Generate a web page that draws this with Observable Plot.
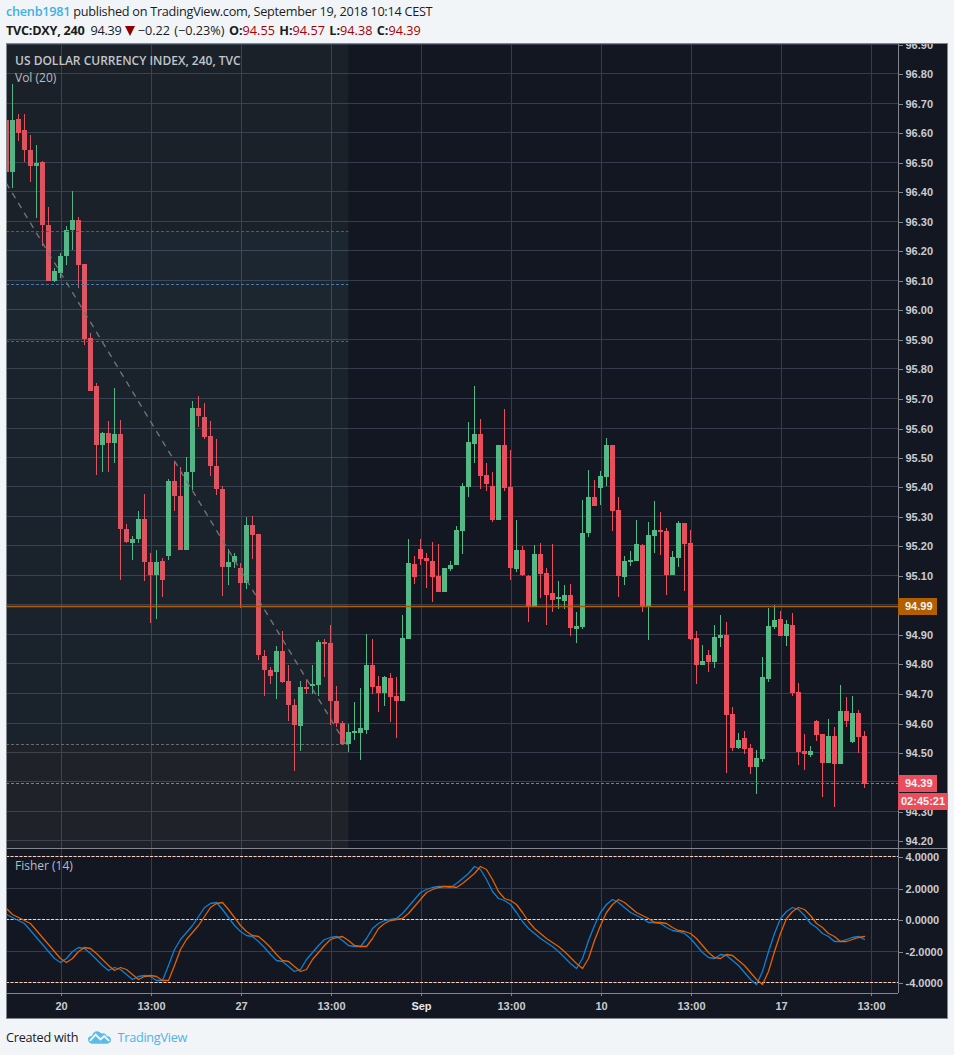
<!DOCTYPE html>
<html><head><meta charset="utf-8">
<script src="https://cdn.jsdelivr.net/npm/d3@7"></script>
<script src="https://cdn.jsdelivr.net/npm/@observablehq/plot@0.6"></script>
<style>
html,body{margin:0;padding:0;background:#f1f5f8;width:954px;height:1055px;overflow:hidden;font-family:"Open Sans",sans-serif;color:#1c1c1c}
.abs{position:absolute;white-space:nowrap}
svg{display:block}
.pane{position:absolute;left:6px;overflow:hidden}
.tag{position:absolute;left:898px;color:#f4f4f4;font:700 11px "Liberation Sans",Arial,sans-serif;text-align:left;padding-left:7px;box-sizing:border-box}
.leg{font-size:12px;color:#b9bdc2}
.hd{font-size:12.7px;letter-spacing:-0.27px;line-height:20px}
.ohlc{letter-spacing:0;word-spacing:1px}
</style></head><body>
<div class="abs hd" style="left:6px;top:1px"><span style="color:#3fb0e6;font-weight:600">chenb1981</span> published on TradingView.com, September 19, 2018 10:14 CEST</div>
<div class="abs hd" style="left:6px;top:20px"><b style="font-weight:700">TVC:DXY, 240</b>&nbsp; 94.39 <svg width="10" height="10" viewBox="0 0 10 10" style="display:inline-block;vertical-align:-1px"><path d="M0 0H10L5 10Z" fill="#8f0000"/></svg> <span class="ohlc">−0.22 (−0.23%) <b>O:</b><span style="color:#a80000">94.55</span> <b>H:</b><span style="color:#a80000">94.57</span> <b>L:</b><span style="color:#a80000">94.38</span> <b>C:</b><span style="color:#a80000">94.39</span></span></div>
<div id="price" class="pane" style="top:44px"></div>
<div id="fisher" class="pane" style="top:848px"></div>
<div id="tags"></div>
<div class="abs" style="left:6px;top:43px;width:942px;height:976px;box-sizing:border-box;border:1px solid #82868c;pointer-events:none"></div>
<div class="abs leg" style="left:15px;top:52px;font-weight:600;color:#c2c5c9">US DOLLAR CURRENCY INDEX, 240, TVC</div>
<div class="abs leg" style="left:15px;top:69px">Vol (20)</div>
<div class="abs leg" style="left:15px;top:857px">Fisher (14)</div>
<div class="abs hd" style="left:6px;top:1027px">Created with</div>
<svg class="abs" style="left:87px;top:1028px" width="25" height="16" viewBox="0 0 26 16"><path d="M1 11.5C1 9 3 8 5 8C6 5 8 3 10.500 3C12.500 3 14 4 15 5.500C17 4.500 20 5.500 20.500 8C23 8 25 9.500 25 12C25 14.500 23 16 21 16H5C3 16 1 14 1 11.500Z" fill="#5bbce8"/><path d="M3 13L9 6.500L14 11.500L18 8L23 13" fill="none" stroke="#f1f5f8" stroke-width="2"/></svg>
<div class="abs hd" style="left:117.500px;top:1027px;color:#4fb3e8">TradingView</div>
<script>
const openPrice=[96.644,96.466,96.647,96.607,96.542,96.486,96.499,96.288,96.098,96.123,96.181,96.268,96.305,96.153,95.902,95.742,95.540,95.581,95.546,95.579,95.257,95.207,95.221,95.291,95.145,95.099,95.149,95.163,95.420,95.369,95.184,95.448,95.667,95.637,95.572,95.470,95.393,95.126,95.143,95.125,95.072,95.271,95.240,94.827,94.779,94.770,94.843,94.742,94.660,94.587,94.721,94.725,94.726,94.874,94.871,94.674,94.598,94.528,94.566,94.566,94.576,94.796,94.725,94.701,94.752,94.691,94.674,94.884,95.138,95.189,95.159,95.149,95.098,95.043,95.121,95.135,95.250,95.399,95.545,95.579,95.440,95.403,95.288,95.542,95.399,95.121,95.186,95.098,94.996,95.172,95.108,95.040,95.020,95.013,95.033,94.918,94.925,95.243,95.366,95.396,95.433,95.542,95.321,95.094,95.145,95.149,95.203,94.996,95.233,95.254,95.250,95.101,95.159,95.277,95.210,94.888,94.796,94.830,94.806,94.888,94.898,94.630,94.515,94.549,94.515,94.450,94.477,94.749,94.925,94.952,94.894,94.932,94.705,94.505,94.491,94.606,94.562,94.464,94.555,94.460,94.640,94.535,94.633,94.555];
const closePrice=[96.466,96.644,96.598,96.540,96.486,96.495,96.286,96.098,96.132,96.183,96.271,96.302,96.150,95.901,95.725,95.540,95.581,95.546,95.579,95.255,95.211,95.223,95.291,95.143,95.099,95.145,95.082,95.420,95.367,95.184,95.450,95.667,95.638,95.567,95.468,95.390,95.126,95.145,95.166,95.072,95.271,95.234,94.828,94.777,94.756,94.843,94.736,94.658,94.590,94.721,94.715,94.732,94.874,94.867,94.672,94.597,94.526,94.569,94.569,94.582,94.796,94.721,94.701,94.755,94.688,94.674,94.888,95.142,95.094,95.155,95.149,95.094,95.043,95.125,95.135,95.254,95.403,95.552,95.579,95.437,95.410,95.288,95.542,95.396,95.125,95.186,95.101,94.996,95.172,95.105,95.033,95.016,95.027,95.033,94.921,94.928,95.243,95.366,95.335,95.437,95.542,95.318,95.098,95.149,95.152,95.206,94.996,95.237,95.254,95.247,95.101,95.162,95.277,95.206,94.884,94.796,94.810,94.806,94.891,94.898,94.627,94.515,94.542,94.511,94.450,94.481,94.755,94.928,94.949,94.894,94.935,94.701,94.501,94.494,94.505,94.559,94.464,94.555,94.460,94.640,94.606,94.633,94.552,94.393];
const highPrice=[96.644,96.766,96.663,96.663,96.593,96.556,96.503,96.346,96.141,96.192,96.283,96.403,96.312,96.153,95.922,95.751,95.585,95.622,95.734,95.625,95.273,95.233,95.317,95.376,95.176,95.186,95.159,95.425,95.488,95.466,95.501,95.691,95.708,95.684,95.623,95.561,95.403,95.189,95.176,95.142,95.298,95.301,95.240,94.847,94.789,94.860,94.911,94.794,94.678,94.742,94.745,94.796,94.881,94.884,94.932,94.725,94.606,94.596,94.671,94.717,94.901,94.884,94.759,94.759,94.769,94.755,94.966,95.223,95.166,95.223,95.176,95.213,95.206,95.125,95.149,95.267,95.413,95.620,95.739,95.630,95.481,95.450,95.542,95.664,95.525,95.288,95.199,95.101,95.203,95.210,95.125,95.206,95.081,95.067,95.071,94.976,95.355,95.457,95.423,95.454,95.566,95.542,95.366,95.166,95.182,95.288,95.206,95.281,95.352,95.315,95.260,95.182,95.284,95.277,95.254,94.911,94.864,94.847,94.932,94.966,94.942,94.654,94.566,94.572,94.528,94.508,94.823,94.989,94.999,94.979,94.949,94.972,94.735,94.562,94.522,94.610,94.562,94.613,94.586,94.728,94.688,94.691,94.643,94.572];
const lowPrice=[96.466,96.411,96.571,96.499,96.432,96.310,96.215,96.096,96.093,96.106,96.150,96.200,96.072,95.878,95.725,95.440,95.448,95.448,95.479,95.082,95.207,95.150,95.207,95.079,94.936,94.950,95.024,95.150,95.316,95.184,95.184,95.387,95.603,95.560,95.434,95.370,95.028,95.065,95.125,94.987,95.051,95.153,94.811,94.689,94.729,94.679,94.733,94.604,94.434,94.502,94.697,94.697,94.689,94.753,94.590,94.584,94.526,94.501,94.542,94.472,94.562,94.695,94.637,94.657,94.603,94.549,94.674,94.884,95.071,95.135,95.057,95.010,95.043,95.043,95.115,95.135,95.172,95.366,95.481,95.393,95.386,95.281,95.288,95.386,95.084,95.111,95.098,94.942,94.996,95.023,94.932,94.976,94.986,94.986,94.894,94.871,94.918,95.230,95.335,95.338,95.403,95.250,95.027,95.067,95.132,95.149,94.976,94.881,95.176,95.167,95.033,95.101,95.128,95.047,94.881,94.732,94.796,94.772,94.786,94.857,94.430,94.505,94.511,94.494,94.427,94.359,94.467,94.738,94.918,94.894,94.860,94.691,94.457,94.440,94.484,94.538,94.349,94.464,94.315,94.460,94.586,94.532,94.498,94.379];
const fisherLine=[0.34,0.11,-0.04,-0.25,-0.68,-1.15,-1.59,-2.06,-2.48,-2.72,-2.48,-2.02,-1.78,-1.87,-2.19,-2.55,-2.91,-3.23,-3.06,-3.16,-3.50,-3.78,-3.63,-3.57,-3.65,-3.86,-3.86,-2.91,-1.91,-1.27,-0.83,-0.36,0.19,0.74,1.02,1.08,0.64,0.13,-0.36,-0.79,-1.00,-1.10,-1.38,-1.78,-2.21,-2.59,-2.68,-2.97,-3.31,-3.18,-2.51,-2.08,-1.66,-1.27,-1.13,-1.10,-1.36,-1.63,-1.70,-1.70,-1.23,-0.57,-0.25,-0.08,0,0.04,0.38,0.85,1.27,1.70,1.91,2.04,2.08,2.08,2.06,2.29,2.59,2.93,3.35,3.18,2.51,1.76,1.34,1.23,0.93,0.45,-0.11,-0.57,-0.91,-1.19,-1.46,-1.70,-2.02,-2.40,-2.78,-3.12,-2.48,-1.32,-0.36,0.42,0.96,1.27,1.08,0.76,0.47,0.25,0.06,-0.17,-0.17,-0.25,-0.51,-0.70,-0.74,-0.89,-1.23,-1.66,-2.08,-2.42,-2.48,-2.23,-2.31,-2.59,-2.93,-3.35,-3.78,-4.14,-3.33,-2.06,-0.89,0.06,0.51,0.76,0.64,0.25,-0.23,-0.53,-0.89,-1.08,-1.38,-1.38,-1.30,-1.17,-1.10,-1.27];
const triggerLine=[0.70,0.34,0.11,-0.04,-0.25,-0.68,-1.15,-1.59,-2.06,-2.48,-2.72,-2.48,-2.02,-1.78,-1.87,-2.19,-2.55,-2.91,-3.23,-3.06,-3.16,-3.50,-3.78,-3.63,-3.57,-3.65,-3.86,-3.86,-2.91,-1.91,-1.27,-0.83,-0.36,0.19,0.74,1.02,1.08,0.64,0.13,-0.36,-0.79,-1.00,-1.10,-1.38,-1.78,-2.21,-2.59,-2.68,-2.97,-3.31,-3.18,-2.51,-2.08,-1.66,-1.27,-1.13,-1.10,-1.36,-1.63,-1.70,-1.70,-1.23,-0.57,-0.25,-0.08,0,0.04,0.38,0.85,1.27,1.70,1.91,2.04,2.08,2.08,2.06,2.29,2.59,2.93,3.35,3.18,2.51,1.76,1.34,1.23,0.93,0.45,-0.11,-0.57,-0.91,-1.19,-1.46,-1.70,-2.02,-2.40,-2.78,-3.12,-2.48,-1.32,-0.36,0.42,0.96,1.27,1.08,0.76,0.47,0.25,0.06,-0.17,-0.17,-0.25,-0.51,-0.70,-0.74,-0.89,-1.23,-1.66,-2.08,-2.42,-2.48,-2.23,-2.31,-2.59,-2.93,-3.35,-3.78,-4.14,-3.33,-2.06,-0.89,0.06,0.51,0.76,0.64,0.25,-0.23,-0.53,-0.89,-1.08,-1.38,-1.38,-1.30,-1.17,-1.10];

const timeTicks=[9.167,24.167,39.167,54.167,69.167,84.167,99.167,114.167,129.167,144.167];
const timeLabels=["20","13:00","27","13:00","Sep","13:00","10","13:00","17","13:00"];
const priceTicks=[96.9,96.8,96.7,96.6,96.5,96.4,96.3,96.2,96.1,96.0,95.9,95.8,95.7,95.6,95.5,95.4,95.3,95.2,95.1,95.0,94.9,94.8,94.7,94.6,94.5,94.4,94.3,94.2];
const fisherTicks=[4,2,0,-2,-4];
const fisherLevels=[4,0,-4];
const fibLevels=[96.266,96.086,95.893,94.527];
const fibColors=["#2b6a86","#4a76b0","#2a7a62","#6a6a6a"];
const fibBands=[[96.9,96.266,"#597b68"],[96.266,96.086,"#63adae"],[96.086,95.893,"#63ad9a"],[95.893,94.527,"#598f7c"],[94.527,94.17,"#8b855e"]];
const fibEndBar=57.05;
const trendBars=[0,56.5];
const trendPrices=[96.43,94.53];
const supportPrice=94.995, lastPrice=94.395;

const GREEN="#53b987",RED="#eb4d5c",GRID="#363c4e",AXIS="#82868c",TEXT="#c9ccd1";
const bars=openPrice.map((o,i)=>({i,o,h:highPrice[i],l:lowPrice[i],c:closePrice[i],col:closePrice[i]>=o?GREEN:RED}));
const xDomain=[0,892/6];
const font={fontFamily:'"Liberation Sans",Arial,sans-serif',fontSize:"11px",fontWeight:700,background:"#131722",overflow:"hidden"};
const thin=d=>Math.abs(d.o-d.c)<0.004?0.002:0;

const pricePlot=Plot.plot({
  width:942,height:804,marginLeft:0,marginRight:50,marginTop:0,marginBottom:0,
  style:font,
  x:{domain:xDomain,axis:null},
  y:{domain:[94.3-37/295,94.3+767/295],round:true,axis:null},
  marks:[
    Plot.gridY(priceTicks,{stroke:GRID,strokeOpacity:1}),
    Plot.gridX(timeTicks,{stroke:GRID,strokeOpacity:1}),
    Plot.ruleX(bars,{x:"i",y1:"l",y2:"h",stroke:"col",strokeWidth:1}),
    Plot.ruleX(bars,{x:"i",y1:d=>Math.min(d.o,d.c)-thin(d),y2:d=>Math.max(d.o,d.c)+thin(d),stroke:"col",strokeWidth:5}),
    Plot.rect(fibBands,{x1:0,x2:fibEndBar,y1:d=>d[0],y2:d=>d[1],fill:d=>d[2],fillOpacity:0.1}),
    Plot.ruleY(fibLevels,{x1:0,x2:fibEndBar,stroke:(d,i)=>fibColors[i],strokeDasharray:"3 2",strokeWidth:1}),
    Plot.line(trendBars.map((b,i)=>({b,p:trendPrices[i]})),{x:"b",y:"p",stroke:"#707275",strokeWidth:1.4,strokeDasharray:"5 6.600"}),
    Plot.ruleY([supportPrice],{stroke:"#b06000",strokeWidth:1.7}),
    Plot.ruleY([lastPrice],{stroke:RED,strokeWidth:1,strokeDasharray:"3 2"}),
    Plot.ruleX([xDomain[1]],{stroke:AXIS,strokeWidth:1}),
    Plot.axisY(priceTicks,{anchor:"right",tickSize:4,tickPadding:3,dy:1,tickFormat:d3.format(".2f"),stroke:AXIS,fill:TEXT,fontSize:11,fontWeight:700})
  ]
});
document.getElementById("price").append(pricePlot);

const fisherPlot=Plot.plot({
  width:942,height:170,marginLeft:0,marginRight:50,marginTop:0,marginBottom:25,
  style:font,
  x:{domain:xDomain,axis:null},
  y:{domain:[4-137/15.75,4+8/15.75],round:true,axis:null},
  marks:[
    Plot.gridY(fisherTicks,{stroke:GRID,strokeOpacity:1}),
    Plot.gridX(timeTicks,{stroke:GRID,strokeOpacity:1}),
    Plot.ruleY(fisherLevels,{stroke:"#ffcfba",strokeWidth:1,strokeDasharray:"3 1.5"}),
    Plot.line(fisherLine,{x:(d,i)=>i,y:d=>d,stroke:"#0f80d2",strokeWidth:1.3}),
    Plot.line(triggerLine,{x:(d,i)=>i,y:d=>d,stroke:"#e36100",strokeWidth:1.3}),
    Plot.ruleX([xDomain[1]],{y1:4+8/15.75,y2:4-137/15.75,stroke:AXIS,strokeWidth:1}),
    Plot.ruleY([4+8/15.75],{x1:xDomain[0],x2:xDomain[1]*942/892,stroke:AXIS,strokeWidth:1}),
    Plot.ruleY([4-137/15.75],{x1:xDomain[0],x2:xDomain[1],stroke:AXIS,strokeWidth:1}),
    Plot.axisY(fisherTicks,{anchor:"right",tickSize:4,tickPadding:3,dy:1,tickFormat:d=>d3.format(".4f")(d).replace("−","-"),stroke:AXIS,fill:TEXT,fontSize:11,fontWeight:700}),
    Plot.axisX(timeTicks.filter((d,i)=>timeLabels[i]!=="Sep"),{anchor:"bottom",tickSize:3,tickPadding:6,tickFormat:d=>timeLabels[timeTicks.indexOf(d)],stroke:AXIS,fill:TEXT,fontSize:11,fontWeight:700}),
    Plot.axisX(timeTicks.filter((d,i)=>timeLabels[i]==="Sep"),{anchor:"bottom",tickSize:3,tickPadding:6,tickFormat:d=>timeLabels[timeTicks.indexOf(d)],stroke:AXIS,fill:"#e6e8eb",fontSize:11,fontWeight:700})
  ]
});
document.getElementById("fisher").append(fisherPlot);

const py=pricePlot.scale("y");
const tags=document.getElementById("tags");
function tag(value,text,w,bg){
  const el=document.createElement("div");
  el.className="tag";
  const top=44+py.apply(value)+0.5-8.5;
  el.style.cssText=`top:${top}px;width:${w}px;height:17px;line-height:17px;background:${bg}`;
  el.textContent=text;
  tags.append(el);
}
tag(supportPrice,"94.99",39,"#b25f00");
tag(lastPrice,"94.39",39,RED);
const cd=document.createElement("div");
cd.className="tag";
cd.style.cssText=`top:793px;width:49px;height:17px;line-height:17px;background:${RED};padding-left:3px`;
cd.textContent="02:45:21";
tags.append(cd);
</script>
</body></html>
